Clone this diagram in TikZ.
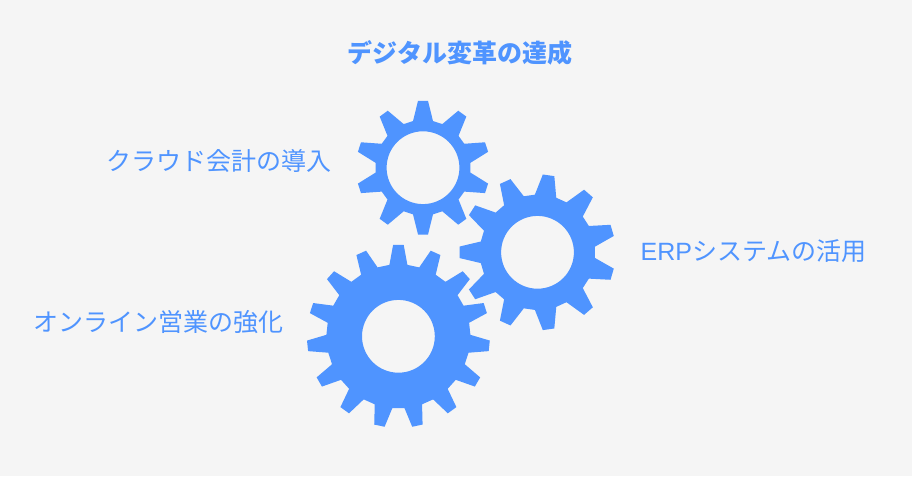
\documentclass[tikz,border=0pt]{standalone}
\usepackage{fontspec}
\newfontfamily\cjk{Noto Sans CJK JP}
\newfontfamily\latinpart{Liberation Sans}
\definecolor{gearblue}{HTML}{4F94FF}
\definecolor{paper}{HTML}{F5F5F5}
\tikzset{
    gearfill/.style={fill=gearblue,even odd rule},
    gearlabel/.style={text=gearblue,font=\cjk\fontsize{18.75}{22}\selectfont,inner sep=0pt},
    geartitle/.style={gearlabel,font=\cjk\bfseries\fontsize{18.75}{22}\selectfont},
}
% centre x, centre y, teeth, first tooth angle, tip, root, half tip, half base
\newcommand{\gearwheel}[8]{
    \pgfmathsetmacro{\gearstep}{360/#3}
    \pgfmathsetmacro{\tipangle}{asin(#7/#5)}
    \pgfmathsetmacro{\baseangle}{asin(#8/#6)}
    \fill[gearfill,shift={(#1,#2)}] (#4-\baseangle:#6)
        \foreach \tooth in {1,...,#3} {
            -- (#4+\gearstep*\tooth-\gearstep-\baseangle:#6)
            -- (#4+\gearstep*\tooth-\gearstep-\tipangle:#5)
            -- (#4+\gearstep*\tooth-\gearstep+\tipangle:#5)
            -- (#4+\gearstep*\tooth-\gearstep+\baseangle:#6)
        } -- cycle
        (0,0) circle (36.4);
}
\begin{document}
\begin{tikzpicture}[x=0.75pt,y=0.75pt]
    \fill[paper] (0,0) rectangle (912,476);
    \gearwheel{423}{308.3}{10}{90}{67}{47.7}{5}{10}
    \gearwheel{537.5}{223.7}{11}{180}{78}{57.7}{5.8}{10.8}
    \gearwheel{398.4}{139.7}{15}{90}{91.5}{72}{5.3}{9}
    \node[geartitle] (title) at (460,423) {デジタル変革の達成};
    \node[gearlabel] (cloud) at (218.5,315) {クラウド会計の導入};
    \node[gearlabel] (erp) at (753.5,225) {{\latinpart ERP}システムの活用};
    \node[gearlabel] (sales) at (158,154) {オンライン営業の強化};
\end{tikzpicture}
\end{document}
